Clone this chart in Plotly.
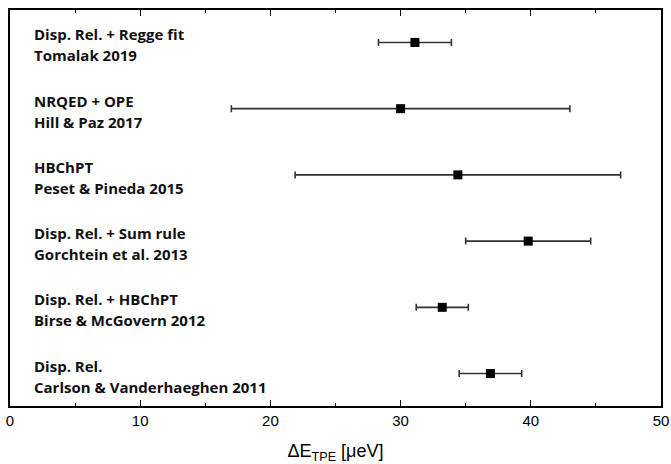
import plotly.graph_objects as go

# Two-photon-exchange contribution, ordered top to bottom
methods = [
    "Disp. Rel. + Regge fit",
    "NRQED + OPE",
    "HBChPT",
    "Disp. Rel. + Sum rule",
    "Disp. Rel. + HBChPT",
    "Disp. Rel.",
]
authors = [
    "Tomalak 2019",
    "Hill & Paz 2017",
    "Peset & Pineda 2015",
    "Gorchtein et al. 2013",
    "Birse & McGovern 2012",
    "Carlson & Vanderhaeghen 2011",
]
delta_e = [31.1, 30.0, 34.4, 39.8, 33.2, 36.9]
delta_e_err = [2.8, 13.0, 12.5, 4.8, 2.0, 2.4]

n = len(methods)
ypos = [n - 1 - i for i in range(n)]

fig = go.Figure()
fig.add_trace(go.Scatter(
    x=delta_e,
    y=ypos,
    mode="markers",
    marker=dict(symbol="square", size=9, color="black"),
    error_x=dict(type="data", array=delta_e_err, visible=True,
                 color="#333333", thickness=1.6, width=3.5),
    showlegend=False,
    hoverinfo="x",
))

label_font = dict(family="Open Sans", size=15, color="#111111")
for yp, m, a in zip(ypos, methods, authors):
    # method on the first line, reference on the second
    fig.add_annotation(
        x=0, xref="paper", y=yp, yref="y",
        xanchor="left", yanchor="middle", xshift=22, yshift=8,
        text=f"<b>{m}</b>", showarrow=False, align="left", font=label_font,
    )
    fig.add_annotation(
        x=0, xref="paper", y=yp, yref="y",
        xanchor="left", yanchor="middle", xshift=22, yshift=-13,
        text=f"<b>{a}</b>", showarrow=False, align="left", font=label_font,
    )

fig.update_layout(
    width=671, height=464,
    margin=dict(l=9.5, r=10, t=9.5, b=58),
    plot_bgcolor="white", paper_bgcolor="white",
    font=dict(family="Liberation Sans", color="black"),
    xaxis=dict(
        range=[0, 50], tickvals=[0, 10, 20, 30, 40, 50],
        automargin=False,
        showgrid=False, zeroline=False,
        showline=True, linecolor="black", linewidth=1.5, mirror="ticks",
        ticks="inside", ticklen=6, tickwidth=1.3, tickcolor="black",
        minor=dict(tickvals=[5, 15, 25, 35, 45], ticks="inside",
                   ticklen=3, tickwidth=1.3, tickcolor="black"),
        tickfont=dict(family="Liberation Sans", size=15, color="black"),
        title=dict(text="ΔE<sub>TPE</sub> [μeV]", standoff=20,
                   font=dict(family="Liberation Sans", size=18, color="black")),
    ),
    yaxis=dict(
        range=[-0.49, 5.49], showticklabels=False, ticks="",
        automargin=False,
        showgrid=False, zeroline=False,
        showline=True, linecolor="black", linewidth=1.5, mirror=True,
    ),
)

fig.write_html("out.html")
